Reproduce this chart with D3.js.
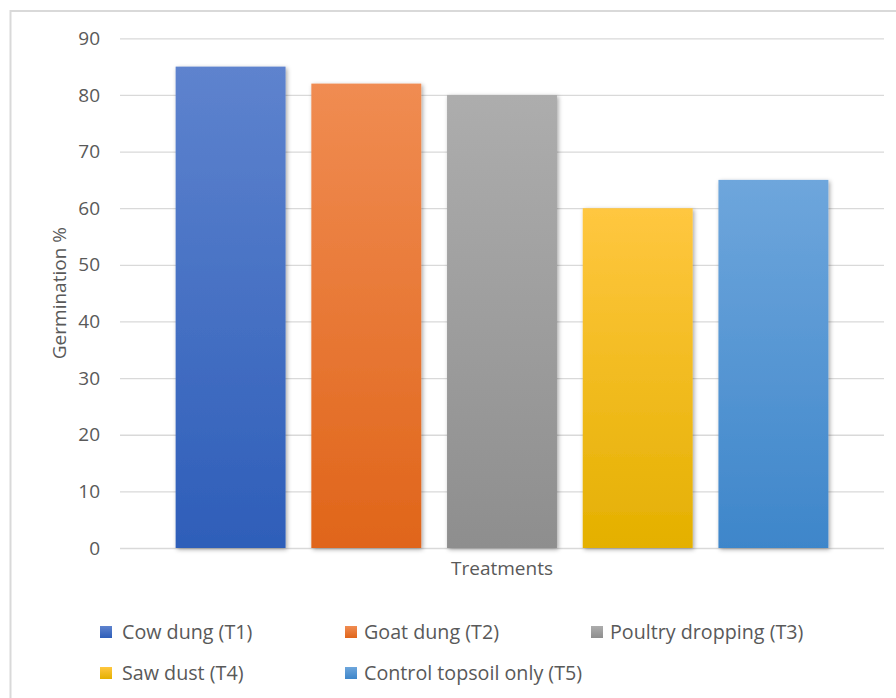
<!DOCTYPE html>
<html>
<head>
<meta charset="utf-8">
<script src="https://cdn.jsdelivr.net/npm/d3@7"></script>
<style>
  body { margin: 0; background: #fff; }
  text { font-family: "Open Sans", sans-serif; fill: #595959; }
</style>
</head>
<body>
<svg id="chart"></svg>
<script>
// Chart data
const series = ["Cow dung (T1)", "Goat dung (T2)", "Poultry dropping (T3)", "Saw dust (T4)", "Control topsoil only (T5)"];
const germination = [85, 82, 80, 60, 65];
const yTicks = [0, 10, 20, 30, 40, 50, 60, 70, 80, 90];
const categoryLabel = "Treatments";

const width = 896, height = 698;
const colorsTop = ["#5e83ce", "#f08c52", "#adadad", "#ffc740", "#6ea6dc"];
const colorsBottom = ["#2e5eb9", "#e0651a", "#8e8e8e", "#e4b000", "#3e86ca"];

const svg = d3.select("#chart")
  .attr("width", width)
  .attr("height", height);

const defs = svg.append("defs");

series.forEach((s, i) => {
  const g = defs.append("linearGradient")
    .attr("id", "grad" + i)
    .attr("x1", 0).attr("y1", 0).attr("x2", 0).attr("y2", 1);
  g.append("stop").attr("offset", "0%").attr("stop-color", colorsTop[i]);
  g.append("stop").attr("offset", "100%").attr("stop-color", colorsBottom[i]);
});

const shadow = defs.append("filter")
  .attr("id", "shadow")
  .attr("x", "-10%").attr("y", "-10%").attr("width", "130%").attr("height", "130%");
shadow.append("feDropShadow")
  .attr("dx", 1.5).attr("dy", 1.5)
  .attr("stdDeviation", 2)
  .attr("flood-color", "#000")
  .attr("flood-opacity", 0.35);

// chart border (runs off the right and bottom edges)
svg.append("rect")
  .attr("x", 10.5).attr("y", 11)
  .attr("width", 900).attr("height", 700)
  .attr("fill", "none")
  .attr("stroke", "#d9d9d9")
  .attr("stroke-width", 2);

const plotLeft = 120, plotRight = 884, plotTop = 38.3, plotBottom = 548;

const y = d3.scaleLinear()
  .domain([0, 90])
  .range([plotBottom, plotTop]);

const x = d3.scaleBand()
  .domain(series)
  .range([plotLeft, plotRight])
  .paddingInner(0.19)
  .paddingOuter(0.41);

// gridlines + tick labels
const yAxis = d3.axisLeft(y)
  .tickValues(yTicks)
  .tickSize(-(plotRight - plotLeft))
  .tickPadding(20);

const gy = svg.append("g")
  .attr("transform", `translate(${plotLeft},0)`)
  .call(yAxis);

gy.select(".domain").remove();
gy.selectAll(".tick line")
  .attr("stroke", "#d9d9d9")
  .attr("stroke-width", 1.3);
gy.selectAll(".tick text")
  .attr("fill", "#595959")
  .style("font-size", "19px");

// bars
svg.append("g")
  .selectAll("rect")
  .data(germination)
  .join("rect")
  .attr("x", (d, i) => x(series[i]))
  .attr("y", d => y(d))
  .attr("width", x.bandwidth())
  .attr("height", d => y(0) - y(d))
  .attr("fill", (d, i) => `url(#grad${i})`)
  .attr("filter", "url(#shadow)");

// axis titles
svg.append("text")
  .attr("transform", `translate(66,${(plotTop + plotBottom) / 2}) rotate(-90)`)
  .attr("text-anchor", "middle")
  .style("font-size", "19px")
  .text("Germination %");

svg.append("text")
  .attr("x", (plotLeft + plotRight) / 2)
  .attr("y", 575)
  .attr("text-anchor", "middle")
  .style("font-size", "19px")
  .text(categoryLabel);

// legend
const legendX = [100, 345, 591];
const legendY = [632, 673];

const legend = svg.append("g")
  .selectAll("g")
  .data(series)
  .join("g")
  .attr("transform", (d, i) => `translate(${legendX[i % 3]},${legendY[Math.floor(i / 3)]})`);

legend.append("rect")
  .attr("x", 0).attr("y", -6)
  .attr("width", 12).attr("height", 12)
  .attr("fill", (d, i) => `url(#grad${i})`);

legend.append("text")
  .attr("x", (d, i) => i % 3 === 0 ? 22 : 19)
  .attr("dy", "0.35em")
  .style("font-size", "19.7px")
  .text(d => d);
</script>
</body>
</html>
